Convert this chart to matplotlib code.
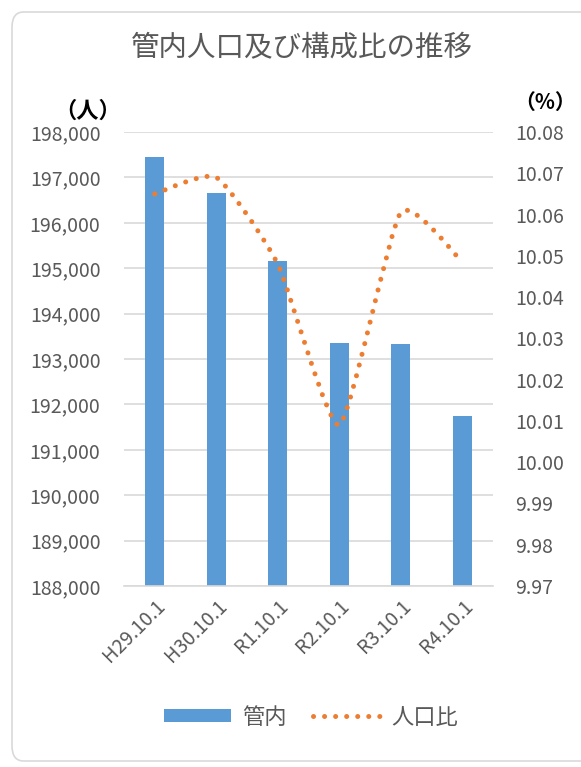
import numpy as np
import matplotlib
matplotlib.use('Agg')
import matplotlib.pyplot as plt
from matplotlib.path import Path
from matplotlib.patches import PathPatch, FancyBboxPatch, Patch
from matplotlib.lines import Line2D
from matplotlib.ticker import FuncFormatter

plt.rcParams['font.family'] = ['Noto Sans CJK JP', 'DejaVu Sans']

categories = ['H29.10.1', 'H30.10.1', 'R1.10.1', 'R2.10.1', 'R3.10.1', 'R4.10.1']
population = [197456, 196650, 195159, 193346, 193324, 191744]
ratio = [10.065, 10.069, 10.048, 10.009, 10.0605, 10.0485]

BLUE = '#5B9BD5'
ORANGE = '#ED7D31'
GREY = '#595959'
GRID = '#D9D9D9'

def smooth_path(xs, ys, k=6.0):
	# Excel-like smoothed line: cubic bezier through each point
	pts = np.column_stack([xs, ys]).astype(float)
	n = len(pts)
	verts = [pts[0]]
	codes = [Path.MOVETO]
	for i in range(n - 1):
		p0 = pts[max(i - 1, 0)]
		p1 = pts[i]
		p2 = pts[i + 1]
		p3 = pts[min(i + 2, n - 1)]
		verts += [p1 + (p2 - p0) / k, p2 - (p3 - p1) / k, p2]
		codes += [Path.CURVE4] * 3
	return Path(verts, codes)

fig = plt.figure(figsize=(5.81, 7.67), dpi=100)
W, H = 581, 767

# chart border
fig.patches.append(FancyBboxPatch((12 / W, 6 / H), 590 / W, 749 / H,
	boxstyle='round,pad=0,rounding_size=0.02', transform=fig.transFigure,
	facecolor='none', edgecolor=GRID, linewidth=1.2))

ax = fig.add_axes([124 / W, 1 - 586 / H, (493 - 124) / W, (586 - 132) / H])
x = np.arange(len(categories))
ax.bar(x, population, width=0.31, color=BLUE, zorder=2)
ax.set_xlim(-0.5, len(categories) - 0.5)
ax.set_ylim(188000, 198000)
ax.set_yticks(np.arange(188000, 198001, 1000))
ax.yaxis.set_major_formatter(FuncFormatter(lambda v, p: f'{int(v):,}'))
ax.grid(axis='y', color=GRID, linewidth=1.2, zorder=0)
ax.set_axisbelow(True)
for s in ['top', 'left', 'right']:
	ax.spines[s].set_visible(False)
ax.spines['bottom'].set_color(GRID)
ax.spines['bottom'].set_linewidth(1.2)
ax.tick_params(axis='y', length=0, pad=17, labelsize=14, labelcolor=GREY)
ax.tick_params(axis='x', length=0, pad=7, labelsize=14, labelcolor=GREY)
ax.set_xticks(x)
ax.set_xticklabels(categories, rotation=45, ha='right', rotation_mode='anchor')

ax2 = ax.twinx()
ax2.set_ylim(9.97, 10.08)
ax2.set_yticks(np.round(np.arange(9.97, 10.0801, 0.01), 2))
ax2.yaxis.set_major_formatter(FuncFormatter(lambda v, p: f'{v:.2f}'))
for s in ['top', 'left', 'right', 'bottom']:
	ax2.spines[s].set_visible(False)
ax2.tick_params(axis='y', length=0, pad=16, labelsize=14, labelcolor=GREY)

line_style = dict(linewidth=3.6, linestyle=(0, (0.01, 2.2)), capstyle='round')
ax2.add_patch(PathPatch(smooth_path(x, ratio, k=11), facecolor='none', edgecolor=ORANGE,
	zorder=3, **line_style))

fig.text(0.52, 1 - 48 / H, '管内人口及び構成比の推移', ha='center', va='center',
	fontsize=20.5, color=GREY)
fig.text(88 / W, 1 - 111 / H, '（人）', ha='center', va='center', fontsize=16,
	fontweight='bold', color='black')
fig.text(545 / W, 1 - 102 / H, '（%）', ha='center', va='center', fontsize=15,
	fontweight='bold', color='black')

handles = [Patch(facecolor=BLUE, edgecolor='none'),
	Line2D([], [], color=ORANGE, linewidth=3.6, linestyle=(0, (0.01, 2.2)),
		dash_capstyle='round')]
fig.legend(handles, ['管内', '人口比'], loc='center', bbox_to_anchor=(0.535, 1 - 717 / H),
	ncol=2, frameon=False, fontsize=16, labelcolor=GREY, handlelength=3.0,
	handleheight=0.55, columnspacing=1.2, handletextpad=0.5)

fig.savefig('out.png', dpi=100)
